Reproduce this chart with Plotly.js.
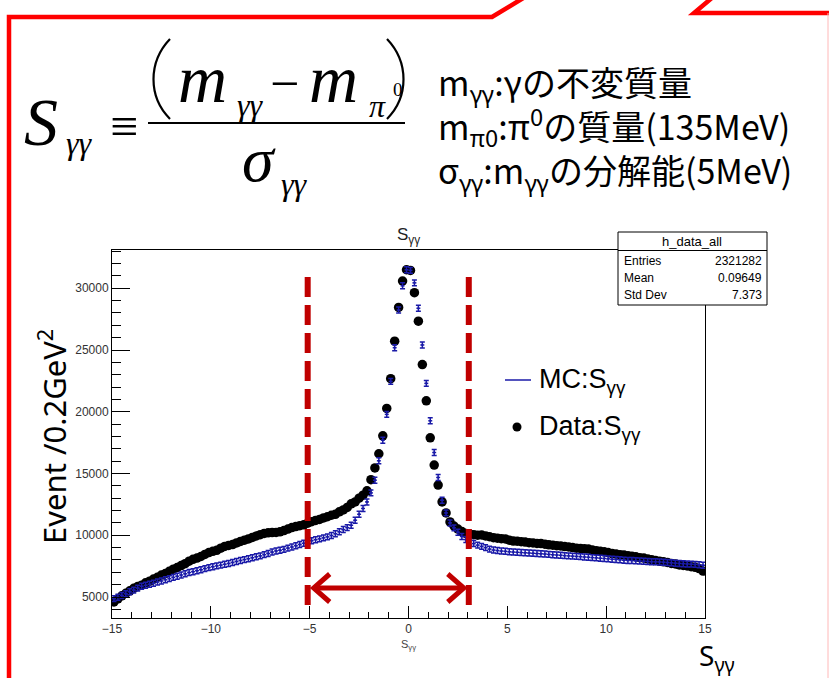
<!DOCTYPE html>
<html>
<head>
<meta charset="utf-8">
<script src="https://cdn.plot.ly/plotly-3.0.1.min.js"></script>
<style>html,body{margin:0;padding:0;background:#fff;}#chart{width:829px;height:678px;}</style>
</head>
<body>
<div id="chart"></div>
<script>
// Histogram definition: 150 bins of width 0.2 from -15 to 15
const binLow = -15, binWidth = 0.2, nBins = 150;

// Data:S_gg (black points), bins -14.9 ... 14.9
const dataCounts = [
  4600,4850,5100,5300,5500,5700,5850,5960,6150,6280,
  6450,6600,6780,6900,7080,7250,7380,7550,7700,7900,
  8050,8150,8280,8450,8600,8700,8780,8950,9100,9180,
  9250,9380,9500,9600,9700,9820,9950,10050,10150,10200,
  10220,10230,10280,10380,10500,10620,10700,10780,10850,10980,
  11100,11200,11280,11400,11500,11620,11700,11900,12050,12250,
  12550,12700,13000,13250,13600,14500,15450,16600,18050,20270,
  22680,25720,28450,30590,31500,31450,29640,27340,23820,20890,
  17890,15680,14060,12700,11810,11080,10750,10500,10300,10150,
  10100,10050,10000,10020,9950,9880,9800,9760,9720,9700,
  9600,9530,9520,9480,9450,9400,9380,9340,9330,9280,
  9230,9200,9150,9130,9080,9050,9000,8950,8930,8900,
  8880,8800,8750,8700,8660,8600,8520,8480,8430,8400,
  8350,8300,8250,8180,8150,8080,8020,7950,7900,7850,
  7800,7720,7680,7600,7560,7520,7460,7400,7300,7100
];

// MC:S_gg (blue crosses), same bins
const mcCounts = [
  4870,4980,5120,5260,5420,5560,5720,5870,5950,6030,
  6120,6210,6300,6400,6490,6590,6680,6780,6880,6980,
  7050,7130,7210,7300,7380,7450,7520,7580,7650,7720,
  7800,7880,7960,8030,8100,8180,8260,8330,8430,8530,
  8640,8730,8790,8860,8960,9050,9150,9250,9350,9450,
  9560,9640,9710,9790,9870,9980,10120,10280,10460,10620,
  10810,11220,11700,12170,12700,13430,14460,16030,17700,19790,
  22460,25190,28240,30200,31500,31450,30440,28380,25410,22300,
  19270,16700,14680,12840,11810,11000,10600,10250,9900,9650,
  9460,9330,9200,9100,9000,8880,8800,8760,8720,8700,
  8660,8640,8620,8600,8580,8560,8540,8520,8500,8480,
  8450,8420,8400,8380,8350,8330,8310,8290,8270,8240,
  8220,8190,8170,8140,8120,8090,8060,8040,8010,7980,
  7960,7950,7930,7920,7900,7880,7860,7850,7840,7820,
  7790,7770,7740,7720,7700,7680,7660,7640,7610,7570
];

const xTickVals = [-15, -10, -5, 0, 5, 10, 15];
const yTickVals = [5000, 10000, 15000, 20000, 25000, 30000];
const statsRows = [["Entries", "2321282"], ["Mean", "0.09649"], ["Std Dev", "7.373"]];
const statsName = "h_data_all";
const definitionLines = [
  "m<sub>γγ</sub>:γの不変質量",
  "m<sub>π0</sub>:π<sup>0</sup>の質量(135MeV)",
  "σ<sub>γγ</sub>:m<sub>γγ</sub>の分解能(5MeV)"
];
const cutLow = -5.1, cutHigh = 3.05;

const binCenters = [];
for (let i = 0; i < nBins; i++) binCenters.push(+(binLow + binWidth * (i + 0.5)).toFixed(2));

// geometry helpers (pixel -> paper)
const L = 112, R = 705, T = 250, B = 618;
const px = x => (x - L) / (R - L);
const py = y => (B - y) / (B - T);

const ROOTFONT = "Liberation Sans, Arial, sans-serif";
const SERIF = "Liberation Serif, Times New Roman, serif";
const JP = "Noto Sans CJK JP, sans-serif";
const RED = "#c00000";
const BLUE = "#1a1aa8";

const traces = [
  {
    x: binCenters, y: dataCounts, type: "scatter", mode: "markers",
    marker: {size: 9.5, color: "black"}, showlegend: false, hoverinfo: "x+y"
  },
  {
    x: binCenters, y: mcCounts, type: "scatter", mode: "markers",
    marker: {size: 2, color: BLUE},
    error_x: {type: "constant", value: binWidth / 2, color: BLUE, thickness: 1.5, width: 0},
    error_y: {type: "constant", value: 240, color: BLUE, thickness: 1.5, width: 2.5},
    showlegend: false, hoverinfo: "x+y"
  }
];

function ann(text, x, y, size, opts) {
  return Object.assign({
    text: text, xref: "paper", yref: "paper", x: px(x), y: py(y),
    xanchor: "left", yanchor: "middle", showarrow: false,
    font: {family: ROOTFONT, size: size, color: "black"}
  }, opts || {});
}
function serif(text, x, y, size, opts) {
  return ann(text, x, y, size, Object.assign({font: {family: SERIF, size: size, color: "black"}}, opts || {}));
}

const annotations = [
  // formula
  serif("<i>S</i>", 22, 122, 68),
  serif("<i>γγ</i>", 64, 143, 32),
  serif("≡", 124, 126, 50, {xanchor: "center"}),
  serif("<i>m</i>", 176, 79, 68),
  serif("<i>γγ</i>", 235, 105, 32),
  serif("−", 284, 83, 52, {xanchor: "center"}),
  serif("<i>m</i>", 307, 79, 68),
  serif("<i>π</i>", 367, 106, 32),
  serif("0", 391, 89, 19),
  serif("<i>σ</i>", 240, 160, 64),
  serif("<i>γγ</i>", 279, 184, 32),
  // definitions (one block, three lines)
  ann(definitionLines.join("<br>"), 436, 128, 34, {align: "left", font: {family: JP, size: 34, color: "black"}}),
  // histogram title
  ann("S<sub>γγ</sub>", 408, 236, 17, {xanchor: "center", font: {family: ROOTFONT, size: 17, color: "#222"}}),
  // x axis title (ROOT)
  ann("S<sub>γγ</sub>", 408, 645, 11, {xanchor: "center", font: {family: ROOTFONT, size: 11, color: "#444"}}),
  // large axis label
  ann("S<sub>γγ</sub>", 697, 657, 28, {font: {family: "Noto Sans, sans-serif", size: 28, color: "black"}}),
  // y axis title
  ann("Event /0.2GeV<sup>2</sup>", 52, 437, 31, {xanchor: "center", textangle: -90,
      font: {family: "Noto Sans, sans-serif", size: 31, color: "black"}}),
  // legend
  ann("MC:S<sub>γγ</sub>", 537, 381, 27),
  ann("Data:S<sub>γγ</sub>", 537, 428, 27),
  // stats box
  ann(statsName, 692, 241, 13, {xanchor: "center"})
];
statsRows.forEach((r, i) => {
  const y = 261 + i * 17;
  annotations.push(ann(r[0], 622, y, 12));
  annotations.push(ann(r[1], 764, y, 12, {xanchor: "right"}));
});

function line(x0, y0, x1, y1, color, width, dash) {
  return {type: "line", xref: "paper", yref: "paper", x0: px(x0), y0: py(y0), x1: px(x1), y1: py(y1),
          line: {color: color, width: width, dash: dash || "solid"}, layer: "above"};
}
function pathPx(pts, color, width) {
  const d = pts.map((p, i) => (i ? "L" : "M") + px(p[0]).toFixed(5) + "," + py(p[1]).toFixed(5)).join(" ");
  return {type: "path", xref: "paper", yref: "paper", path: d, line: {color: color, width: width}, layer: "above"};
}
function curvePx(p0, c1, c2, p1, color, width) {
  const f = p => px(p[0]).toFixed(5) + "," + py(p[1]).toFixed(5);
  return {type: "path", xref: "paper", yref: "paper", path: "M" + f(p0) + " C" + f(c1) + " " + f(c2) + " " + f(p1),
          line: {color: color, width: width}, layer: "above"};
}

// dashed cut lines positioned with the x axis
const xpx = v => L + (v - binLow) / 30 * (R - L);

const shapes = [
  // slide callout border
  pathPx([[9, 680], [9, 17], [492, 17], [525, -3]], "#ff0000", 4.5),
  pathPx([[713, -3], [694, 13], [832, 13]], "#ff0000", 4.5),
  line(828, 13, 828, 680, "#ffb8b8", 1),
  // formula parentheses and fraction bar
  curvePx([170, 39], [148, 62], [148, 97], [170, 119], "black", 2.2),
  curvePx([387, 39], [409, 62], [409, 97], [387, 119], "black", 2.2),
  line(148, 123, 405, 123, "black", 2),
  // stats box
  {type: "rect", xref: "paper", yref: "paper", x0: px(618), y0: py(232), x1: px(767), y1: py(305),
   line: {color: "black", width: 1}, fillcolor: "white", layer: "above"},
  line(618, 250.5, 767, 250.5, "black", 1),
  // legend samples
  line(505, 380, 531, 380, BLUE, 1.5),
  {type: "circle", xref: "paper", yref: "paper", x0: px(512.5), y0: py(422.5), x1: px(521.5), y1: py(431.5),
   fillcolor: "black", line: {color: "black", width: 0}, layer: "above"},
  // cut lines
  line(xpx(cutLow), 277, xpx(cutLow), 611, RED, 6, "20px,8px"),
  line(xpx(cutHigh), 277, xpx(cutHigh), 611, RED, 6, "20px,8px"),
  // double arrow
  line(xpx(cutLow) + 6, 588, xpx(cutHigh) - 5, 588, RED, 5),
  pathPx([[xpx(cutLow) + 22, 574], [xpx(cutLow) + 6, 588], [xpx(cutLow) + 22, 602]], RED, 5),
  pathPx([[xpx(cutHigh) - 21, 574], [xpx(cutHigh) - 5, 588], [xpx(cutHigh) - 21, 602]], RED, 5)
];

const axisCommon = {
  showline: true, linecolor: "black", linewidth: 1, mirror: true,
  showgrid: false, zeroline: false, ticks: "inside", tickcolor: "black", tickwidth: 1,
  tickfont: {family: ROOTFONT, size: 12, color: "#333"}
};

const layout = {
  width: 829, height: 678,
  margin: {l: L, r: 829 - R, t: T, b: 678 - B, pad: 0},
  paper_bgcolor: "white", plot_bgcolor: "white",
  showlegend: false,
  xaxis: Object.assign({}, axisCommon, {
    range: [-15, 15], tickmode: "array", tickvals: xTickVals, ticklen: 12,
    minor: {dtick: 1, tick0: 0, ticks: "inside", ticklen: 6, tickcolor: "black", showgrid: false}
  }),
  yaxis: Object.assign({}, axisCommon, {
    range: [3300, 33100], tickmode: "array", tickvals: yTickVals, tickformat: "d", ticklen: 18,
    minor: {dtick: 1000, tick0: 0, ticks: "inside", ticklen: 9, tickcolor: "black", showgrid: false}
  }),
  annotations: annotations,
  shapes: shapes
};

Plotly.newPlot("chart", traces, layout, {staticPlot: true, displayModeBar: false});
</script>
</body>
</html>
